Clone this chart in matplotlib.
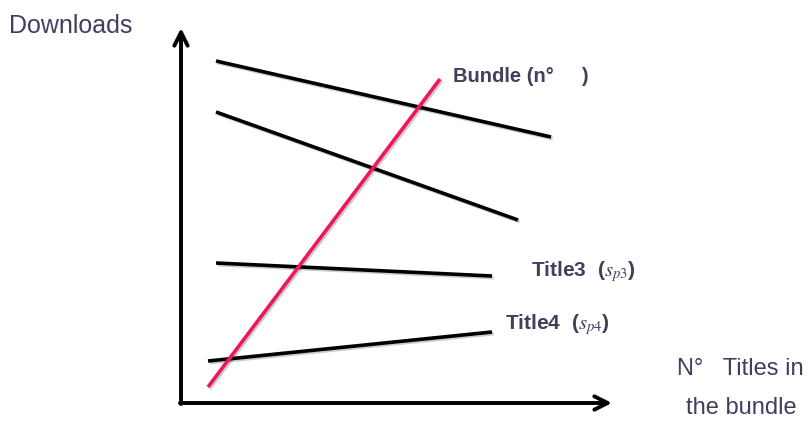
import matplotlib
matplotlib.use('Agg')
import matplotlib.pyplot as plt
import matplotlib.patheffects as pe

plt.rcParams['mathtext.fontset'] = 'stix'

# 线段端点 (像素坐标, 原图 809x421)
title_names = ['Title1', 'Title2', 'Title3', 'Title4']
title_x0 = [216, 216, 216, 208]
title_y0 = [61, 112, 263, 361]
title_x1 = [551, 518, 492, 492]
title_y1 = [137, 220, 276, 332]

bundle_x = [208, 440]
bundle_y = [387, 79]

axis_origin = (181, 403)
axis_x_end = 612
axis_y_end = 28

TEXT_COLOR = '#3f3f5e'
PINK = '#f0155f'

fig = plt.figure(figsize=(8.09, 4.21), dpi=100)
ax = fig.add_axes([0, 0, 1, 1])
ax.set_xlim(0, 809)
ax.set_ylim(421, 0)
ax.axis('off')

shadow = [pe.SimpleLineShadow(offset=(1.2, -1.2), alpha=0.2), pe.Normal()]

# 坐标轴箭头
ox, oy = axis_origin
ax.annotate('', xy=(axis_x_end, oy), xytext=(ox - 1, oy),
            arrowprops=dict(arrowstyle='->', lw=2.8, color='black',
                            mutation_scale=24, shrinkA=0, shrinkB=0))
ax.annotate('', xy=(ox, axis_y_end), xytext=(ox, oy + 1),
            arrowprops=dict(arrowstyle='->', lw=2.8, color='black',
                            mutation_scale=24, shrinkA=0, shrinkB=0))

# 各标题的下载曲线
for i in range(len(title_names)):
    ax.plot([title_x0[i], title_x1[i]], [title_y0[i], title_y1[i]],
            color='black', lw=2.6, solid_capstyle='butt', path_effects=shadow)

# 捆绑线
ax.plot(bundle_x, bundle_y, color=PINK, lw=2.6, solid_capstyle='butt',
        path_effects=shadow)

# 文字
ax.text(9, 26, 'Downloads', color=TEXT_COLOR, fontsize=18,
        family='Liberation Sans', va='center', ha='left')
ax.text(453, 77, 'Bundle (n°     )', color=TEXT_COLOR, fontsize=14.5,
        fontweight='bold', family='Liberation Sans', va='center', ha='left')
ax.text(531, 272, r'Title3  ($s_{p3}$)', color=TEXT_COLOR, fontsize=15,
        fontweight='bold', family='Liberation Sans', va='center', ha='left')
ax.text(505, 325, r'Title4  ($s_{p4}$)', color=TEXT_COLOR, fontsize=15,
        fontweight='bold', family='Liberation Sans', va='center', ha='left')
ax.text(804, 369, 'N°   Titles in', color=TEXT_COLOR, fontsize=17,
        family='Liberation Sans', va='center', ha='right')
ax.text(797, 408, 'the bundle', color=TEXT_COLOR, fontsize=17,
        family='Liberation Sans', va='center', ha='right')

fig.savefig('out.png', dpi=100)
plt.close(fig)
